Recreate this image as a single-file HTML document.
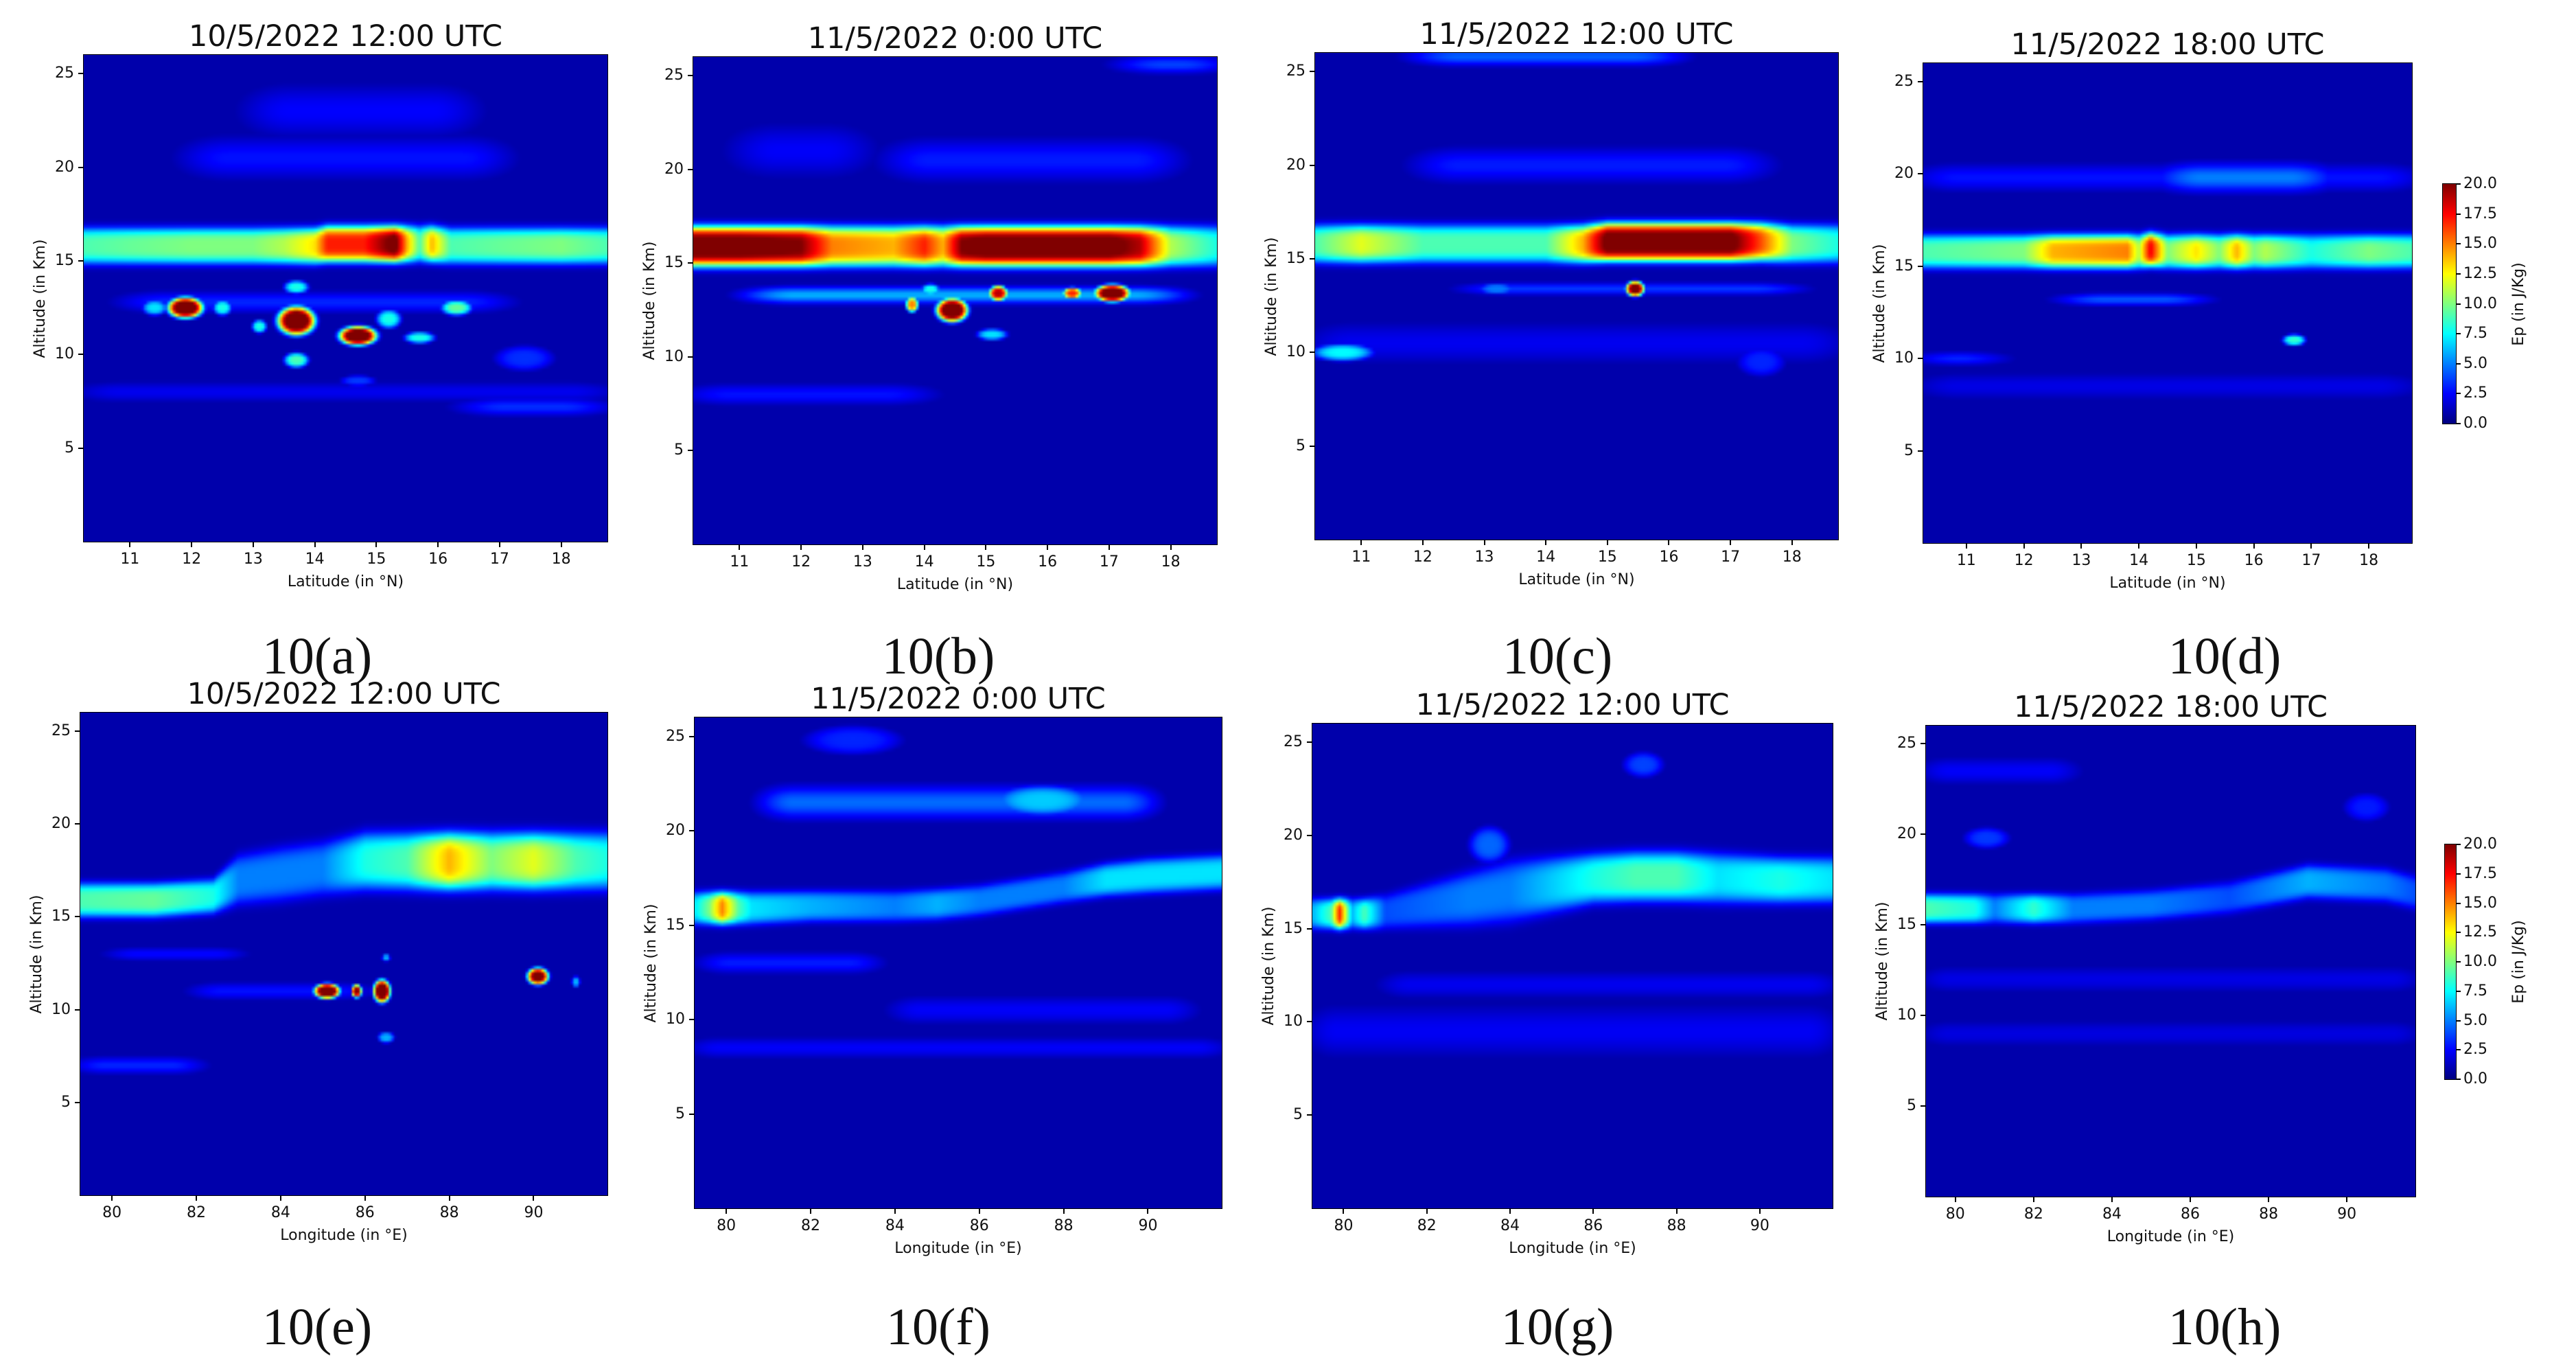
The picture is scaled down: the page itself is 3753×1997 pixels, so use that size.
<!DOCTYPE html>
<html><head><meta charset="utf-8">
<style>
html,body{margin:0;padding:0;background:#fff;}
#root{position:relative;width:3753px;height:1997px;overflow:hidden;background:#fff;font-family:"DejaVu Sans","Liberation Sans",sans-serif;color:#111;}
.abs{position:absolute;}
.title{font-size:43px;white-space:nowrap;transform:translateX(-50%);line-height:1;}
.lab{font-family:"Liberation Serif",serif;font-size:76px;white-space:nowrap;transform:translateX(-50%);line-height:1;}
.tick{font-size:22px;white-space:nowrap;line-height:1;}
.axl{font-size:22px;white-space:nowrap;line-height:1;}
canvas{position:absolute;image-rendering:auto;}
.cb{position:absolute;background:linear-gradient(to top,#00007f 0%,#0000ff 12.5%,#007fff 25%,#00ffff 37.5%,#7fff7f 50%,#ffff00 62.5%,#ff7f00 75%,#ff0000 87.5%,#7f0000 100%);}
</style></head>
<body>
<div id="root"></div>
<script>
// ---------- DATA ----------
const latTicks = [11,12,13,14,15,16,17,18];
const lonTicks = [80,82,84,86,88,90];
const altTicks = [5,10,15,20,25];
const cbTicks = [0,2.5,5,7.5,10,12.5,15,17.5,20];
const titles = ["10/5/2022  12:00 UTC","11/5/2022  0:00 UTC","11/5/2022  12:00 UTC","11/5/2022  18:00 UTC","10/5/2022  12:00 UTC","11/5/2022  0:00 UTC","11/5/2022  12:00 UTC","11/5/2022  18:00 UTC"];
const panelLabels = ["10(a)","10(b)","10(c)","10(d)","10(e)","10(f)","10(g)","10(h)"];

// panel a
const a_bandX   = [10.25,11,12,13,13.5,14,14.2,14.8,15.3,15.5,15.7,15.9,16.2,17,18,18.75];
const a_bandC   = [15.8,15.8,15.8,15.8,15.8,15.8,15.9,15.9,15.9,15.9,15.9,15.9,15.8,15.8,15.8,15.8];
const a_bandW   = [0.95,0.95,0.95,0.95,0.95,0.95,0.95,0.95,0.95,0.95,0.95,0.95,0.95,0.95,0.95,0.95];
const a_bandV   = [9,9.5,10,10,11,13,17,17,21,14,9,14,9,9.5,10,9];
const a_layers  = [[12,17,20.5,1.2,2.8],[13,16.5,23,1.5,2.5],[11,17,12.8,0.6,3.2],[10.25,18.75,8,0.6,2.2],[16.5,18.6,7.2,0.5,3.4]];
const a_blobs   = [[11.9,12.5,23,0.28,0.55],[13.7,11.8,23,0.3,0.75],[14.7,11,23,0.3,0.5],[12.5,12.5,8,0.15,0.4],[11.4,12.5,7,0.2,0.4],[13.7,13.6,8,0.2,0.35],[13.7,9.7,9,0.2,0.4],[13.1,11.5,8,0.12,0.35],[15.2,11.9,8,0.2,0.5],[15.7,10.9,8,0.25,0.3],[16.3,12.5,9.5,0.25,0.4],[17.4,9.8,3.4,0.5,0.7],[14.7,8.6,3.6,0.3,0.3]];

// panel b
const b_bandX   = [10.25,11,12,12.5,13.5,14,14.3,14.6,15,16,17,17.5,18,18.75];
const b_bandC   = [15.9,15.9,15.9,15.9,15.9,15.9,15.9,15.9,15.9,15.9,15.9,15.9,15.9,15.9];
const b_bandW   = [1.05,1.05,1.05,1.05,1.05,1.05,1.05,1.05,1.05,1.05,1.05,1.05,1.05,1.05];
const b_bandV   = [21,21,20,15,14,17,14,20,21,21,21,19,11,8];
const b_layers  = [[11.3,18,13.3,0.45,6],[13.5,18,20.5,1.2,3.0],[10.25,14,8,0.6,2.8],[17.3,18.75,25.6,0.5,3.8],[11,13,21,1.5,2.4]];
const b_blobs   = [[14.45,12.5,23,0.25,0.62],[15.2,13.4,19,0.15,0.4],[16.4,13.4,17,0.15,0.3],[17.05,13.4,23,0.28,0.45],[13.8,12.8,15,0.1,0.4],[15.1,11.2,7,0.25,0.3],[14.1,13.6,8,0.15,0.3]];

// panel c
const c_bandX   = [10.25,11,12,13,14,14.6,15,16,17,17.5,18,18.75];
const c_bandC   = [15.8,15.8,15.8,15.8,15.8,15.8,15.9,15.9,15.9,15.9,15.8,15.8];
const c_bandW   = [1.0,1.0,1.0,1.0,1.0,1.0,1.0,1.0,1.0,1.0,1.0,1.0];
const c_bandV   = [9,12,9,9,9,14,21,21,21,16,10,8];
const c_layers  = [[12,17.5,20,1.0,3.0],[12,16,25.8,0.5,4.4],[12.8,18,13.4,0.35,3.6],[10.25,18.75,10.5,1.2,2.2]];
const c_blobs   = [[15.45,13.4,21,0.15,0.4],[10.7,10,7.5,0.5,0.45],[13.2,13.4,5,0.3,0.3],[17.5,9.5,3.2,0.4,0.8]];

// panel d
const d_bandX   = [10.25,12,12.5,13.8,14,14.2,14.5,15,15.4,15.7,16,16.2,17,18,18.75];
const d_bandC   = [15.8,15.8,15.8,15.8,15.8,15.9,15.8,15.8,15.8,15.8,15.8,15.8,15.8,15.8,15.8];
const d_bandW   = [0.9,0.9,0.9,0.9,0.9,0.9,0.9,0.9,0.9,0.9,0.9,0.9,0.9,0.9,0.9];
const d_bandV   = [9,10,14,15,11,18,10,13,10,14,10,11,8,10,9];
const d_layers  = [[10.25,18.75,19.8,0.8,2.8],[14.5,17.2,19.8,0.8,5.0],[12.8,15,13.2,0.35,4.2],[10.25,11.5,10,0.4,3.2],[10.25,18.75,8.5,0.8,2.0]];
const d_blobs   = [[16.7,11,8.5,0.2,0.3]];

// panel e
const e_bandX   = [79.25,81,82.4,83,84,85,86,87,88,89,90,91,91.75];
const e_bandC   = [15.9,15.9,16.1,17,17.3,17.6,18,18,18,18,18,18,18];
const e_bandW   = [0.9,0.9,0.9,1.3,1.4,1.4,1.5,1.5,1.5,1.5,1.5,1.5,1.5];
const e_bandV   = [9,9.5,8,5,5,5,8,9,14,10,12,9,8];
const e_layers  = [[79.25,82,7,0.5,3.2],[82,86,11,0.5,2.8],[80,83,13,0.4,2.6]];
const e_blobs   = [[85.1,11,23,0.3,0.4],[85.8,11,20,0.12,0.35],[86.4,11,23,0.2,0.6],[90.1,11.8,21,0.25,0.45],[91,11.5,6,0.1,0.3],[86.5,8.5,6,0.2,0.3],[86.5,12.8,6,0.1,0.2]];

// panel f
const f_bandX   = [79.25,79.6,79.9,80.3,80.6,82,84,85,86,88,89,90,91.75];
const f_bandC   = [15.9,15.9,15.9,15.9,15.9,16,16,16.1,16.3,17,17.4,17.6,17.8];
const f_bandW   = [0.85,0.85,0.85,0.85,0.85,0.8,0.8,0.8,0.8,0.8,0.85,0.9,0.9];
const f_bandV   = [7,10,15,9,7,6,5,6,5,5,7,7,7];
const f_layers  = [[81,90,21.5,0.9,4.6],[79.25,91.75,8.5,0.6,2.4],[79.5,83.5,13,0.6,3.0],[84,91,10.5,0.8,2.4]];
const f_blobs   = [[87.5,21.6,6.5,1.2,0.8],[83,24.8,3.2,1.2,0.8]];

// panel g
const g_bandX   = [79.25,79.7,79.9,80.2,80.5,81,83,84,86,87,88,89,90.5,91.75];
const g_bandC   = [15.8,15.8,15.8,15.8,15.8,15.9,16.6,17,17.7,17.8,17.8,17.7,17.6,17.6];
const g_bandW   = [0.8,0.8,0.8,0.8,0.8,0.9,1.4,1.6,1.3,1.3,1.3,1.3,1.2,1.2];
const g_bandV   = [6,9,17,6,9,4,5,5,8,9,9,7,8,7];
const g_layers  = [[79.25,91.75,9.5,1.5,2.3],[81,91.75,12,0.8,2.2]];
const g_blobs   = [[87.2,23.8,3.8,0.5,0.7],[83.5,19.5,4.5,0.5,1.0]];

// panel h
const h_bandX   = [79.25,80.5,81,82,83,85,87,89,91,91.75];
const h_bandC   = [15.9,15.9,15.9,15.9,15.9,16.1,16.5,17.4,17.2,16.8];
const h_bandW   = [0.8,0.8,0.8,0.8,0.8,0.8,0.85,0.9,0.9,0.9];
const h_bandV   = [9,8,5,8.5,5,5,4,6,5,4];
const h_layers  = [[79.25,91.75,12,0.8,2.0],[79.25,91.75,9,0.8,1.9],[79.25,83,23.5,0.8,2.4]];
const h_blobs   = [[80.8,19.8,3.6,0.6,0.6],[90.5,21.5,3.0,0.6,0.8]];

// ---------- LAYOUT ----------
const LAT = [10.25,18.75], LON = [79.25,91.75], ALT = [0,26];
const panels = [
 {id:'a',box:[122,80,885,789],xr:LAT,xt:latTicks,xl:'Latitude (in  \u00B0N)',lx:462,ly:918,band:[a_bandX,a_bandC,a_bandW,a_bandV],layers:a_layers,blobs:a_blobs},
 {id:'b',box:[1010,83,1773,793],xr:LAT,xt:latTicks,xl:'Latitude (in  \u00B0N)',lx:1367,ly:918,band:[b_bandX,b_bandC,b_bandW,b_bandV],layers:b_layers,blobs:b_blobs},
 {id:'c',box:[1916,77,2678,786],xr:LAT,xt:latTicks,xl:'Latitude (in  \u00B0N)',lx:2269,ly:918,band:[c_bandX,c_bandC,c_bandW,c_bandV],layers:c_layers,blobs:c_blobs},
 {id:'d',box:[2802,92,3514,791],xr:LAT,xt:latTicks,xl:'Latitude (in  \u00B0N)',lx:3241,ly:918,band:[d_bandX,d_bandC,d_bandW,d_bandV],layers:d_layers,blobs:d_blobs,cb:[3559,268,3578,617]},
 {id:'e',box:[117,1038,885,1741],xr:LON,xt:lonTicks,xl:'Longitude (in  \u00B0E)',lx:462,ly:1895,band:[e_bandX,e_bandC,e_bandW,e_bandV],layers:e_layers,blobs:e_blobs},
 {id:'f',box:[1012,1045,1780,1760],xr:LON,xt:lonTicks,xl:'Longitude (in  \u00B0E)',lx:1367,ly:1895,band:[f_bandX,f_bandC,f_bandW,f_bandV],layers:f_layers,blobs:f_blobs},
 {id:'g',box:[1912,1054,2670,1760],xr:LON,xt:lonTicks,xl:'Longitude (in  \u00B0E)',lx:2269,ly:1895,band:[g_bandX,g_bandC,g_bandW,g_bandV],layers:g_layers,blobs:g_blobs},
 {id:'h',box:[2806,1057,3519,1743],xr:LON,xt:lonTicks,xl:'Longitude (in  \u00B0E)',lx:3241,ly:1895,band:[h_bandX,h_bandC,h_bandW,h_bandV],layers:h_layers,blobs:h_blobs,cb:[3562,1230,3578,1572]}
];

const root = document.getElementById('root');
function mk(tag, cls, css, text){
  const e = document.createElement(tag);
  if(cls) e.className = cls;
  e.style.cssText = css;
  if(text!==undefined) e.textContent = text;
  root.appendChild(e);
  return e;
}
function interp(xs, ys, x){
  if(x<=xs[0]) return ys[0];
  for(let i=1;i<xs.length;i++){
    if(x<=xs[i]){const t=(x-xs[i-1])/(xs[i]-xs[i-1]);return ys[i-1]+t*(ys[i]-ys[i-1]);}
  }
  return ys[ys.length-1];
}
function smooth(e0,e1,x){const t=Math.min(1,Math.max(0,(x-e0)/(e1-e0)));return t*t*(3-2*t);}
function jet(v){
  const t = Math.min(1,Math.max(0,v/20));
  const cl = z=>Math.min(1,Math.max(0,z));
  return [cl(1.5-Math.abs(4*t-3)),cl(1.5-Math.abs(4*t-2)),cl(1.5-Math.abs(4*t-1))].map(z=>Math.round(z*255));
}
const BG = 0.85;
function fieldAt(p, x, a){
  let v = BG;
  const [bx,bc,bw,bv] = p.band;
  const c = interp(bx,bc,x), w = interp(bx,bw,x), val = interp(bx,bv,x);
  v = Math.max(v, BG + (val-BG)*Math.exp(-Math.pow(Math.abs(a-c)/w,4)));
  for(const L of p.layers){
    const ex = smooth(L[0]-0.9,L[0]+0.6,x)*(1-smooth(L[1]-0.6,L[1]+0.9,x));
    const lv = L[4]*ex*Math.exp(-Math.pow((a-L[2])/L[3],2));
    v = Math.max(v, lv);
  }
  for(const B of p.blobs){
    const r = Math.hypot((x-B[0])/B[3],(a-B[1])/B[4]);
    v = Math.max(v, B[2]*Math.exp(-Math.pow(r,4)));
  }
  return v;
}

panels.forEach((p,i)=>{
  const [x0,y0,x1,y1] = p.box, W=x1-x0, H=y1-y0;
  const sx = v=>x0+(v-p.xr[0])/(p.xr[1]-p.xr[0])*W;
  const sy = v=>y1-(v-ALT[0])/(ALT[1]-ALT[0])*H;

  const cols=200, rows=160;
  const cv = document.createElement('canvas');
  cv.width=cols; cv.height=rows;
  cv.style.cssText=`left:${x0}px;top:${y0}px;width:${W}px;height:${H}px;`;
  
  
  root.appendChild(cv);
  const ctx = cv.getContext('2d');
  const img = ctx.createImageData(cols,rows);
  for(let r=0;r<rows;r++){
    const a = ALT[1]-(r+0.5)/rows*(ALT[1]-ALT[0]);
    for(let c=0;c<cols;c++){
      const x = p.xr[0]+(c+0.5)/cols*(p.xr[1]-p.xr[0]);
      const col = jet(fieldAt(p,x,a));
      const k=(r*cols+c)*4;
      img.data[k]=col[0];img.data[k+1]=col[1];img.data[k+2]=col[2];img.data[k+3]=255;
    }
  }
  ctx.putImageData(img,0,0);

  const fr = mk('div','abs',`left:${x0-1}px;top:${y0-1}px;width:${W}px;height:${H}px;border:1px solid #000;`);
  
  

  const t = mk('div','abs title',`left:${(x0+x1)/2}px;top:${y0-48}px;`, titles[i]);
  
  

  const pl = mk('div','abs lab',`left:${p.lx}px;top:${p.ly}px;`, panelLabels[i]);
  
  

  altTicks.forEach(v=>{
    const y = sy(v);
    const tm = mk('div','abs',`left:${x0-8}px;top:${y-1}px;width:8px;height:2px;background:#000;`);
    
    
    const tl = mk('div','abs tick',`left:${x0-60}px;width:46px;text-align:right;top:${y-11}px;`, String(v));
    
    
  });
  p.xt.forEach(v=>{
    const x = sx(v);
    const tm = mk('div','abs',`left:${x-1}px;top:${y1}px;width:2px;height:8px;background:#000;`);
    
    
    const tl = mk('div','abs tick',`left:${x-30}px;width:60px;text-align:center;top:${y1+15}px;`, String(v));
    
    
  });
  const xl = mk('div','abs axl',`left:${(x0+x1)/2}px;top:${y1+48}px;transform:translateX(-50%);`, p.xl);
  
  
  const yl = mk('div','abs axl',`left:${x0-63}px;top:${(y0+y1)/2}px;transform:translate(-50%,-50%) rotate(-90deg);`, 'Altitude (in Km)');
  
  

  if(p.cb){
    const [cx0,cy0,cx1,cy1] = p.cb;
    const cb = mk('div','cb',`left:${cx0}px;top:${cy0}px;width:${cx1-cx0}px;height:${cy1-cy0}px;outline:1px solid #000;`);
    
    
    cbTicks.forEach(v=>{
      const y = cy1-(v/20)*(cy1-cy0);
      const tm = mk('div','abs',`left:${cx1}px;top:${y-1}px;width:7px;height:2px;background:#000;`);
      
      
      const tl = mk('div','abs tick',`left:${cx1+11}px;top:${y-11}px;`, v.toFixed(1));
      
      
    });
    const ct = mk('div','abs axl',`left:${cx1+92}px;top:${(cy0+cy1)/2}px;transform:translate(-50%,-50%) rotate(-90deg);`, 'Ep (in J/Kg)');
    
    
  }
});
</script>
</body></html>
